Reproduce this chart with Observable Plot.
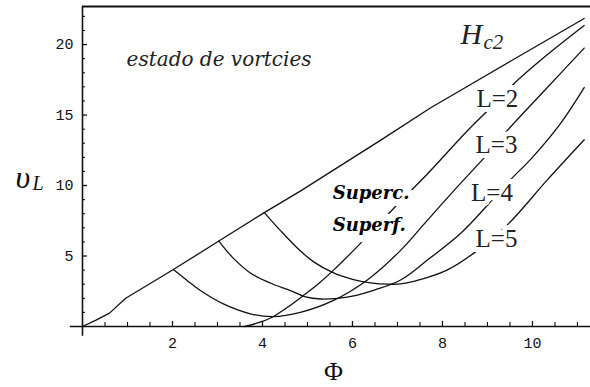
<!DOCTYPE html>
<html>
<head>
<meta charset="utf-8">
<script src="https://cdn.jsdelivr.net/npm/d3@7"></script>
<script src="https://cdn.jsdelivr.net/npm/@observablehq/plot@0.6"></script>
<style>
  body { margin: 0; background: #fff; }
  #chart svg { display: block; }
</style>
</head>
<body>
<div id="chart"></div>
<script>
// Upper critical field H_c2 (flux Φ vs. υ_L)
const hc2Phi = [0, 0.3, 0.6, 0.96, 2.02, 3.03, 4.04, 4.84, 6.62, 7.73, 9.5, 11.15];
const hc2V   = [0, 0.45, 0.95, 2.0, 4.04, 6.06, 8.08, 9.6, 13.2, 15.5, 18.8, 21.85];

// Surface-superconductivity branches for angular momentum L = 2..5
const l2Phi = [3.6, 3.89, 4.18, 4.55, 4.91, 5.25, 5.58, 6.27, 7.13, 7.6, 8.56, 9.0, 9.58, 10.3, 11.15];
const l2V   = [0, 0.25, 0.6, 1.35, 2.2, 3.05, 4.0, 6.2, 9.1, 10.6, 13.9, 15.3, 17.2, 19.2, 21.35];

const l3Phi = [2.02, 2.35, 2.62, 3.13, 3.73, 4.24, 4.84, 5.58, 6.33, 7.07, 7.6, 8.3, 9.02, 9.44, 10.3, 11.15];
const l3V   = [4.04, 3.2, 2.55, 1.6, 0.9, 0.7, 1.0, 1.85, 3.3, 5.4, 7.3, 9.8, 12.3, 13.9, 16.85, 19.75];

const l4Phi = [3.03, 3.35, 3.73, 4.2, 4.62, 4.96, 5.3, 5.67, 6.0, 6.5, 7.07, 7.7, 8.4, 9.0, 9.51, 10.0, 10.6, 11.15];
const l4V   = [6.06, 4.85, 3.8, 3.05, 2.55, 2.1, 1.95, 2.0, 2.15, 2.6, 3.3, 4.8, 6.6, 8.6, 10.4, 12.0, 14.3, 16.95];

const l5Phi = [4.04, 4.4, 4.78, 5.13, 5.58, 6.0, 6.4, 6.8, 7.07, 7.36, 8.1, 8.78, 9.47, 10.33, 11.15];
const l5V   = [8.08, 6.8, 5.55, 4.6, 3.8, 3.35, 3.1, 3.0, 3.02, 3.2, 4.0, 5.4, 7.3, 10.4, 13.25];

// Axis ticks
const xMajorTicks = [2, 4, 6, 8, 10];
const xMinorTicks = [0.5, 1, 1.5, 2.5, 3, 3.5, 4.5, 5, 5.5, 6.5, 7, 7.5, 8.5, 9, 9.5, 10.5, 11];
const yMajorTicks = [5, 10, 15, 20];
const yMinorTicks = [1, 2, 3, 4, 6, 7, 8, 9, 11, 12, 13, 14, 16, 17, 18, 19, 21, 22];

// Labels
const curveLabels = ["L=2", "L=3", "L=4", "L=5"];
const regionLabel = "estado de vortcies";
const surfaceLabel = ["Superc.", "Superf."];

const toRows = (name, phi, v) => phi.map((p, i) => ({curve: name, phi: p, v: v[i]}));
const hc2Rows = toRows("Hc2", hc2Phi, hc2V);
const branchRows = [
  ...toRows("L2", l2Phi, l2V),
  ...toRows("L3", l3Phi, l3V),
  ...toRows("L4", l4Phi, l4V),
  ...toRows("L5", l5Phi, l5V)
];

const xMax = 11.29, yMax = 22.7;
const W = 590, H = 387, mL = 82, mR = 0, mT = 6, mB = 61;
const plotW = W - mL - mR, plotH = H - mT - mB;

const serif = "'Liberation Serif', 'Times New Roman', serif";
const ink = "#111";
const halo = {stroke: "white", strokeWidth: 10, strokeLinejoin: "round", paintOrder: "stroke"};

const chart = Plot.plot({
  width: W,
  height: H,
  marginLeft: mL,
  marginRight: mR,
  marginTop: mT,
  marginBottom: mB,
  style: {background: "white", overflow: "visible"},
  x: {domain: [0, xMax]},
  y: {domain: [0, yMax]},
  marks: [
    // axes lines and top border
    Plot.ruleX([0], {y1: -0.7, y2: yMax, stroke: ink, strokeWidth: 1.6}),
    Plot.ruleY([0], {x1: -0.27, x2: xMax, stroke: ink, strokeWidth: 1.6}),
    Plot.ruleY([yMax], {x1: 0, x2: xMax, stroke: ink, strokeWidth: 2}),
    // inward ticks
    Plot.tickX(xMajorTicks, {x: d => d, insetTop: plotH - 5, stroke: ink, strokeWidth: 1.3}),
    Plot.tickX(xMinorTicks, {x: d => d, insetTop: plotH - 4, stroke: ink, strokeWidth: 1.1}),
    Plot.tickY(yMajorTicks, {y: d => d, insetRight: plotW - 5, stroke: ink, strokeWidth: 1.3}),
    Plot.tickY(yMinorTicks, {y: d => d, insetRight: plotW - 3, stroke: ink, strokeWidth: 1.1}),
    // tick labels
    Plot.axisX(xMajorTicks, {anchor: "bottom", tickSize: 0, tickPadding: 11, label: null,
      fontSize: 15, fontFamily: "'Liberation Mono', monospace", fill: ink}),
    Plot.axisY(yMajorTicks, {anchor: "left", tickSize: 0, tickPadding: 9, label: null,
      fontSize: 15, fontFamily: "'Liberation Mono', monospace", fill: ink}),
    // curves
    Plot.line(hc2Rows, {x: "phi", y: "v", stroke: ink, strokeWidth: 1.3}),
    Plot.line(branchRows, {x: "phi", y: "v", z: "curve", curve: "catmull-rom", stroke: ink, strokeWidth: 1.3}),
    // annotations
    Plot.text([regionLabel], {x: 0.98, y: 18.5, text: d => d, textAnchor: "start", lineAnchor: "bottom",
      fontFamily: "'DejaVu Serif', serif", fontStyle: "italic", fontSize: 20, fill: "#222"}),
    Plot.text(["H"], {x: 8.4, y: 20.07, text: d => d, textAnchor: "start", lineAnchor: "bottom",
      fontFamily: serif, fontStyle: "italic", fontSize: 30, fill: "#222"}),
    Plot.text(["c2"], {x: 8.91, y: 19.72, text: d => d, textAnchor: "start", lineAnchor: "bottom",
      fontFamily: serif, fontStyle: "italic", fontSize: 21, fill: "#222"}),
    Plot.text(curveLabels, {x: [9.22, 9.2, 9.1, 9.2], y: [15.6, 12.34, 8.87, 5.67], text: d => d,
      textAnchor: "middle", lineAnchor: "bottom", fontFamily: serif, fontSize: 25, fill: "#222", ...halo}),
    Plot.text(surfaceLabel, {x: [5.56, 5.56], y: [9.08, 6.81], text: d => d, textAnchor: "start", lineAnchor: "bottom",
      fontFamily: "'DejaVu Serif', serif", fontStyle: "italic", fontWeight: "bold", fontSize: 18, fill: "#000",
      ...halo, strokeWidth: 14}),
    // axis titles
    Plot.text(["Φ"], {x: 5.58, y: -3.83, text: d => d, textAnchor: "middle", lineAnchor: "bottom",
      fontFamily: serif, fontSize: 26, fill: ink}),
    Plot.text(["υ"], {x: -1.49, y: 9.86, text: d => d, textAnchor: "start", lineAnchor: "bottom",
      fontFamily: serif, fontStyle: "italic", fontSize: 32, fill: ink}),
    Plot.text(["L"], {x: -1.11, y: 9.65, text: d => d, textAnchor: "start", lineAnchor: "bottom",
      fontFamily: serif, fontStyle: "italic", fontSize: 20, fill: ink})
  ]
});

document.getElementById("chart").appendChild(chart);
</script>
</body>
</html>
